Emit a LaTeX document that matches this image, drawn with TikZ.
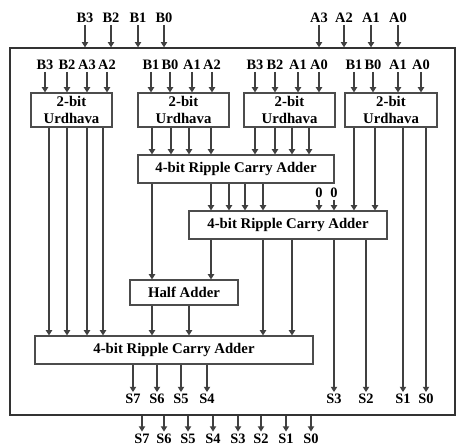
\documentclass[tikz,border=0pt]{standalone}
\usepackage{fontspec}
\setmainfont{Liberation Serif}
\usetikzlibrary{arrows.meta,positioning}

\begin{document}
\begin{tikzpicture}[x=0.02cm, y=-0.02cm,
    blkbox/.style={rectangle, draw=black!70, line width=0.7pt, fill=white, align=center, font=\fontsize{8.4}{9.6}\selectfont\bfseries, inner sep=0pt},
    chipbox/.style={rectangle, draw=black!80, line width=0.8pt, inner sep=0pt},
    sig/.style={font=\fontsize{8.2}{9}\selectfont\bfseries, inner sep=1pt},
    arrow/.style={-{Triangle[length=3pt,width=3.6pt]}, line width=0.7pt, black!75}]

    \useasboundingbox (0,0) rectangle (456,447);

    % Outer block
    \node[chipbox, minimum width=8.9cm, minimum height=7.34cm] (chip) at (232.5,231.5) {};

    % Primary inputs
    \foreach \x/\t [count=\i] in {85/B3,111/B2,138/B1,164/B0,319/A3,344/A2,371/A1,398/A0} {
        \node[sig] (pin\i) at (\x,18) {\t};
        \draw[arrow] (pin\i) -- (pin\i |- chip.north);
    }

    % 2-bit Urdhava multipliers
    \node[blkbox, minimum width=1.62cm, minimum height=0.68cm] (ud1) at (71.5,110) {2-bit\\Urdhava};
    \node[blkbox, minimum width=1.82cm, minimum height=0.68cm] (ud2) at (183.5,110) {2-bit\\Urdhava};
    \node[blkbox, minimum width=1.82cm, minimum height=0.68cm] (ud3) at (289.5,110) {2-bit\\Urdhava};
    \node[blkbox, minimum width=1.84cm, minimum height=0.68cm] (ud4) at (391,110) {2-bit\\Urdhava};

    % Adders
    \node[blkbox, minimum width=3.92cm, minimum height=0.56cm] (rca1) at (236,169) {4-bit Ripple Carry Adder};
    \node[blkbox, minimum width=3.96cm, minimum height=0.56cm] (rca2) at (288,225) {4-bit Ripple Carry Adder};
    \node[blkbox, minimum width=2.16cm, minimum height=0.5cm] (ha) at (184,292.5) {Half Adder};
    \node[blkbox, minimum width=5.56cm, minimum height=0.56cm] (rca3) at (174,350) {4-bit Ripple Carry Adder};

    % Urdhava inputs
    \foreach \x/\t/\b [count=\i] in {45/B3/ud1,67/B2/ud1,87/A3/ud1,107/A2/ud1,
        151/B1/ud2,170/B0/ud2,192/A1/ud2,212/A2/ud2,
        255/B3/ud3,275/B2/ud3,298/A1/ud3,319/A0/ud3,
        354/B1/ud4,373/B0/ud4,398/A1/ud4,421/A0/ud4} {
        \node[sig] (uin\i) at (\x,65) {\t};
        \draw[arrow] (uin\i) -- (uin\i |- \b.north);
    }

    % Urdhava outputs
    \foreach \x in {49,67,87,103}
        \draw[arrow] (\x,0 |- ud1.south) -- (\x,0 |- rca3.north);
    \foreach \x in {152,171,189,211}
        \draw[arrow] (\x,0 |- ud2.south) -- (\x,0 |- rca1.north);
    \foreach \x in {255,275,292,309}
        \draw[arrow] (\x,0 |- ud3.south) -- (\x,0 |- rca1.north);
    \foreach \x in {354,375}
        \draw[arrow] (\x,0 |- ud4.south) -- (\x,0 |- rca2.north);

    % First adder outputs
    \draw[arrow] (152,0 |- rca1.south) -- (152,0 |- ha.north);
    \foreach \x in {211,229,245,263}
        \draw[arrow] (\x,0 |- rca1.south) -- (\x,0 |- rca2.north);

    % Constant zeros
    \foreach \x [count=\i] in {319,334} {
        \node[sig] (z\i) at (\x,193) {0};
        \draw[arrow] (z\i) -- (z\i |- rca2.north);
    }

    % Second adder outputs
    \draw[arrow] (211,0 |- rca2.south) -- (211,0 |- ha.north);
    \foreach \x in {263,292}
        \draw[arrow] (\x,0 |- rca2.south) -- (\x,0 |- rca3.north);

    % Half adder outputs
    \foreach \x in {152,189}
        \draw[arrow] (\x,0 |- ha.south) -- (\x,0 |- rca3.north);

    % Internal sum bits
    \foreach \x/\t in {133/7,157/6,181/5,207/4} {
        \node[sig] (si\t) at (\x,399) {S\t};
        \draw[arrow] (si\t |- rca3.south) -- (si\t);
    }
    \foreach \x/\t in {334/3,366/2} {
        \node[sig] (si\t) at (\x,399) {S\t};
        \draw[arrow] (si\t |- rca2.south) -- (si\t);
    }
    \foreach \x/\t in {403/1,426/0} {
        \node[sig] (si\t) at (\x,399) {S\t};
        \draw[arrow] (si\t |- ud4.south) -- (si\t);
    }

    % Product outputs
    \foreach \x/\t in {142/7,164/6,188/5,213/4,238/3,261/2,286/1,311/0} {
        \node[sig] (so\t) at (\x,438.5) {S\t};
        \draw[arrow] (so\t |- chip.south) -- (so\t);
    }

\end{tikzpicture}
\end{document}
